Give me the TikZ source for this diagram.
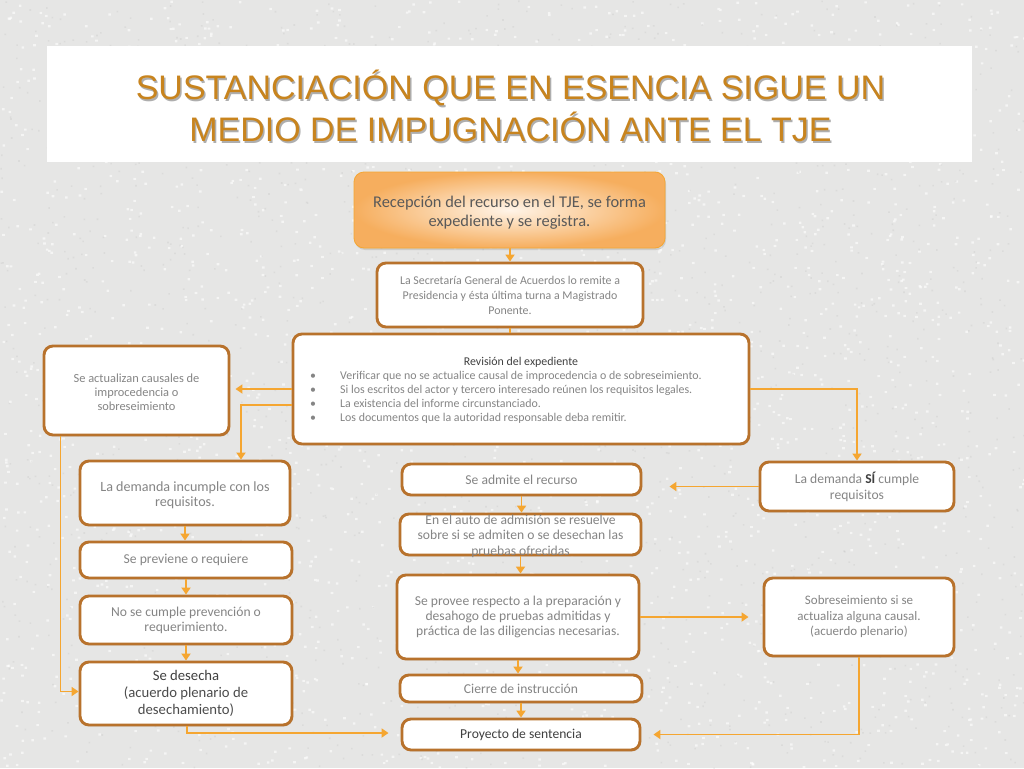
\documentclass[tikz,border=0pt]{standalone}
\usepackage{fontspec}
\setmainfont{Carlito}
\newfontfamily\titlefont{Liberation Sans}
\usetikzlibrary{arrows.meta,shadows,calc}
\definecolor{bgc}{HTML}{E6E6E5}
\definecolor{boxc}{HTML}{B8722C}
\definecolor{arrc}{HTML}{F5A631}
\definecolor{txt}{HTML}{858585}
\definecolor{dark}{HTML}{404040}
\definecolor{titlec}{HTML}{C8841E}
\definecolor{recout}{HTML}{F6AE5E}
\definecolor{recin}{HTML}{FFF4E8}
\newcommand\fsz[2]{\fontsize{#1}{#2}\selectfont}
\tikzset{
  box/.style={draw=boxc, line width=2.9pt, rounded corners=9pt, fill=white,
    text=txt, align=center, inner sep=0pt,
    drop shadow={opacity=0.18, shadow xshift=1pt, shadow yshift=-1.5pt}},
  plain/.style={text=txt, align=center, inner sep=0pt},
  arr/.style={draw=arrc, line width=1.8pt, -{Triangle[width=9pt,length=7pt]}},
  ln/.style={draw=arrc, line width=1.8pt},
}
\begin{document}
\begin{tikzpicture}[x={(1pt,0)}, y={(0,-1pt)}]
\useasboundingbox (0,0) rectangle (1024,768);
\fill[bgc] (0,0) rectangle (1024,768);
\pgfmathsetseed{11}
\foreach \k in {1,...,6}{
  \fill[white, opacity=0.6] \foreach \i in {1,...,400}{ (1024*rnd,768*rnd) rectangle ++(2.6,2.2) };
}
\foreach \k in {1,...,4}{
  \fill[black!30, opacity=0.2] \foreach \i in {1,...,400}{ (1024*rnd,768*rnd) rectangle ++(1.6,1.6) };
}
% title
\fill[white] (47,46) rectangle (972,162);
\node[inner sep=0pt, text=black!70, opacity=0.45, font=\titlefont\fsz{34}{42}, align=center] (titleshadow) at (512,107.5) {SUSTANCIACIÓN QUE EN ESENCIA SIGUE UN\\MEDIO DE IMPUGNACIÓN ANTE EL TJE};
\node[inner sep=0pt, text=titlec, font=\titlefont\fsz{34}{42}, align=center] (title) at (510.5,106) {SUSTANCIACIÓN QUE EN ESENCIA SIGUE UN\\MEDIO DE IMPUGNACIÓN ANTE EL TJE};

% nodes
\node[draw=arrc, line width=0.8pt, rounded corners=10pt, inner color=recin, outer color=recout,
  minimum width=311pt, minimum height=76pt,
  drop shadow={opacity=0.25, shadow xshift=1pt, shadow yshift=-2pt}]
  (rec) at (509.5,210) {};
\node[plain, text=black!65, font=\fsz{16.4}{19}] (rect) at (509.5,212.5)
  {Recepción del recurso en el TJE, se forma\\expediente y se registra.};
\node[box, minimum width=266pt, minimum height=64pt, font=\fsz{11.9}{15}] (sec) at (510,295)
  {La Secretaría General de Acuerdos lo remite a\\Presidencia y ésta última turna a Magistrado\\Ponente.};
\node[box, minimum width=456pt, minimum height=110pt] (rev) at (521,389) {};
\node[plain, text=dark, font=\fsz{11.9}{14}] (revt) at (521,362) {Revisión del expediente};
\node[plain, anchor=north west, align=left, font=\fsz{11.9}{14}] (revl) at (310,369.5)
  {\begin{tabular}{@{}p{30pt}@{}l@{}}
  • & Verificar que no se actualice causal de improcedencia o de sobreseimiento.\\
  • & Si los escritos del actor y tercero interesado reúnen los requisitos legales.\\
  • & La existencia del informe circunstanciado.\\
  • & Los documentos que la autoridad responsable deba remitir.
  \end{tabular}};
\node[box, minimum width=185pt, minimum height=89pt] (caus) at (136.5,390.5) {};
\node[plain, font=\fsz{12.4}{14}] (caust) at (136.5,392)
  {Se actualizan causales de\\improcedencia o\\sobreseimiento};
\node[box, minimum width=210pt, minimum height=64pt] (inc) at (185,493) {};
\node[plain, font=\fsz{14.1}{15}] (inct) at (185,495)
  {La demanda incumple con los\\requisitos.};
\node[box, minimum width=212pt, minimum height=36pt, font=\fsz{13.6}{15}] (prev) at (186,560)
  {Se previene o requiere};
\node[box, minimum width=212pt, minimum height=48pt, font=\fsz{13.6}{15}] (nocum) at (186,620)
  {No se cumple prevención o\\requerimiento.};
\node[box, minimum width=212pt, minimum height=63pt, font=\fsz{14.7}{17}] (des) at (186,693.5)
  {\textcolor{dark}{Se desecha}\\\textcolor{black!70}{(acuerdo plenario de}\\\textcolor{black!70}{desechamiento)}};
\node[box, minimum width=239pt, minimum height=31pt, font=\fsz{13.6}{15}] (adm) at (521.5,479.5)
  {Se admite el recurso};
\node[box, minimum width=241pt, minimum height=41pt] (auto) at (520.5,534.5) {};
\node[plain, font=\fsz{13.6}{15.5}] (autot) at (520.5,536)
  {En el auto de admisión se resuelve\\sobre si se admiten o se desechan las\\pruebas ofrecidas};
\node[box, minimum width=242pt, minimum height=84pt, font=\fsz{13.6}{15}] (prov) at (518,617)
  {Se provee respecto a la preparación y\\desahogo de pruebas admitidas y\\práctica de las diligencias necesarias.};
\node[box, minimum width=242pt, minimum height=27pt, font=\fsz{13.6}{15}] (cier) at (521,688.5)
  {Cierre de instrucción};
\node[box, minimum width=238pt, minimum height=31pt, font=\fsz{13.6}{15}, text=dark] (proy) at (521,734.5)
  {Proyecto de sentencia};
\node[box, minimum width=194pt, minimum height=49pt, font=\fsz{13.6}{16}] (si) at (857,486.5)
  {La demanda \textbf{\textcolor{dark}{SÍ}} cumple\\requisitos};
\node[box, minimum width=190pt, minimum height=78pt, font=\fsz{13}{15.5}] (sob) at (859,617)
  {Sobreseimiento si se\\actualiza alguna causal.\\(acuerdo plenario)};

% connectors
\draw[arr] (rec.south) -- (sec.south |- rec.south) -- (sec.north);
\draw[ln] (sec.south) -- (sec.south |- rev.north);
\draw[arr, shorten >=5pt] (rev.west) -- (rev.west -| caus.east);
\draw[arr] ([yshift=-16pt]rev.west) -| ([xshift=56pt]inc.north);
\draw[arr] (rev.east) -| (si.north);
\draw[arr] (si.west) -- ([xshift=27pt]adm.east |- si.west);
\draw[arr] (adm.south) -- (adm.south |- auto.north);
\draw[arr] (auto.south) -- (auto.south |- prov.north);
\draw[arr] (prov.east) -- ([xshift=-14pt]sob.west |- prov.east);
\draw[arr] (sob.south) |- ([xshift=12pt]proy.east);
\draw[arr] (prov.south) -- (prov.south |- cier.north);
\draw[arr] (cier.south) -- (proy.north);
\draw[arr] ([xshift=18pt]caus.south west) |- ([yshift=2pt]des.west);
\draw[arr] (inc.south) -- (inc.south |- prev.north);
\draw[arr] (prev.south) -- (nocum.north);
\draw[arr] (nocum.south) -- (des.north);
\draw[arr] ([xshift=1pt]des.south) |- ([xshift=-12pt,yshift=1.5pt]proy.west);
\end{tikzpicture}
\end{document}
